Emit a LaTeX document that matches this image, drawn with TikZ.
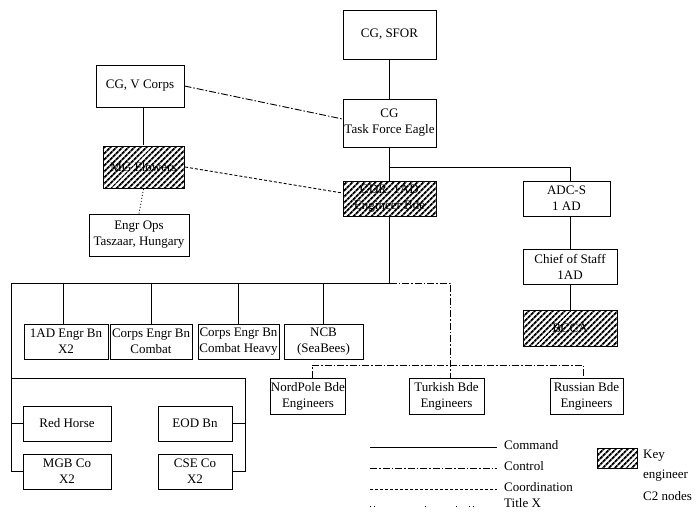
\documentclass[tikz,border=0pt]{standalone}
\usepackage{fontspec}
\setmainfont{Liberation Serif}
\usetikzlibrary{patterns.meta}
\begin{document}
\begin{tikzpicture}[x=1pt,y=-1pt,
 box/.style={draw, line width=1pt, align=center, inner sep=0pt, font=\fontsize{13}{16}\selectfont},
 hatch/.style={box, pattern={Lines[angle=45,distance=4pt,line width=2.1pt]}},
 lbl/.style={anchor=west, inner sep=0pt, font=\fontsize{13}{16}\selectfont},
 cmd/.style={line width=1pt},
 ctl/.style={line width=0.9pt, dash pattern=on 7pt off 2pt on 1.5pt off 2pt},
 crd/.style={line width=0.9pt, dash pattern=on 3pt off 2pt},
 ttx/.style={line width=0.8pt, dash pattern=on 1pt off 2pt},
 ttxl/.style={line width=0.8pt, dash pattern=on 1pt off 3pt on 1pt off 50pt on 1pt off 30pt on 1pt off 12pt},
]
\useasboundingbox (0,0) rectangle (697,512);
% top part
\node[box, minimum width=93pt, minimum height=49pt] (sfor) at (389.5,34.5) {CG, SFOR};
\node[box, minimum width=88pt, minimum height=42pt] (vcorps) at (140,86) {CG, V Corps};
\node[box, minimum width=93pt, minimum height=48pt] (tfe) at (389.5,123) {CG\\Task Force Eagle};
\node[hatch, minimum width=81pt, minimum height=42pt] (mgf) at (143.5,167) {MG Flowers};
\node[box, minimum width=100pt, minimum height=42pt] (engops) at (139,235) {Engr Ops\\Taszaar, Hungary};
\node[hatch, minimum width=93pt, minimum height=35pt] (bde) at (389.5,198.5) {CDR, 1AD\\Engineer Bde};
\node[box, minimum width=87pt, minimum height=35pt] (adcs) at (566.5,198.5) {ADC-S\\1 AD};
\node[box, minimum width=94pt, minimum height=35pt] (cos) at (570,266.5) {Chief of Staff\\1AD};
\node[hatch, minimum width=94pt, minimum height=36pt] (bcca) at (570,328) {BCCA};
% second row
\node[box, minimum width=84pt, minimum height=35pt] (b1) at (66,341.5) {1AD Engr Bn\\X2};
\node[box, minimum width=82pt, minimum height=35pt] (b2) at (151,341.5) {Corps Engr Bn\\Combat};
\node[box, minimum width=81pt, minimum height=35pt] (b3) at (238.5,341.5) {Corps Engr Bn\\Combat Heavy};
\node[box, minimum width=79pt, minimum height=35pt] (ncb) at (323.5,341.5) {NCB\\(SeaBees)};
\node[box, minimum width=74pt, minimum height=36pt] (nord) at (308,396) {NordPole Bde\\Engineers};
\node[box, minimum width=75pt, minimum height=36pt] (turk) at (446.5,396) {Turkish Bde\\Engineers};
\node[box, minimum width=73pt, minimum height=36pt] (russ) at (586.5,396) {Russian Bde\\Engineers};
% lower left
\node[box, minimum width=88pt, minimum height=35pt] (rh) at (67,423.5) {Red Horse};
\node[box, minimum width=88pt, minimum height=35pt] (mgb) at (67,471.5) {MGB Co\\X2};
\node[box, minimum width=74pt, minimum height=35pt] (eod) at (195,423.5) {EOD Bn};
\node[box, minimum width=74pt, minimum height=35pt] (cse) at (195,471.5) {CSE Co\\X2};
% bus coordinates
\coordinate (bus) at (389.5,283);
\coordinate (busL) at (11,283);
\coordinate (busC) at (450,283);
\coordinate (sub) at (11,378);
\coordinate (subR) at (245,378);
\coordinate (ctlL) at (312,365);
\coordinate (ctlR) at (583,365);
% command connectors
\draw[cmd] (sfor) -- (tfe);
\draw[cmd] (vcorps.south -| mgf.north) -- (mgf.north);
\draw[cmd] (tfe) -- (bde);
\draw[cmd] (tfe.south |- 0,167) -| (adcs.north -| cos.north);
\draw[cmd] (cos.north) -- (cos.north |- adcs.south);
\draw[cmd] (cos) -- (bcca);
\draw[cmd] (bde.south) -- (bus) -- (busL) -- (busL |- mgb.west) -- (mgb.west);
\draw[cmd] (busL |- rh.west) -- (rh.west);
\draw[cmd] (b1.north -| 63,0) -- (63,283);
\draw[cmd] (b2.north) -- (b2.north |- bus);
\draw[cmd] (b3.north) -- (b3.north |- bus);
\draw[cmd] (ncb.north) -- (ncb.north |- bus);
\draw[cmd] (sub) -- (subR) -- (subR |- cse.east) -- (cse.east);
\draw[cmd] (subR |- eod.east) -- (eod.east);
% control connectors
\draw[ctl] (vcorps.east) -- (tfe.west |- 0,119);
\draw[ctl] (bus) -- (busC) -- (turk.north -| busC);
\draw[ctl] (nord.north -| ctlL) -- (ctlL) -- (ctlR) -- (russ.north -| ctlR);
% coordination
\draw[crd] (mgf.east) -- (bde.west |- 0,193);
% title X
\draw[ttx] (mgf.south) -- (engops.north);
% legend
\coordinate (l1a) at (370,447); \coordinate (l1b) at (497,447);
\coordinate (l2a) at (370,468); \coordinate (l2b) at (497,468);
\coordinate (l3a) at (370,489); \coordinate (l3b) at (497,489);
\coordinate (l4a) at (370,506); \coordinate (l4b) at (497,506);
\draw[cmd] (l1a) -- (l1b);
\draw[ctl] (l2a) -- (l2b);
\draw[crd] (l3a) -- (l3b);
\draw[ttxl] (l4a) -- (l4b);
\node[lbl] (lc1) at (504,445) {Command};
\node[lbl] (lc2) at (504,466) {Control};
\node[lbl] (lc3) at (504,487) {Coordination};
\node[lbl] (lc4) at (504,503) {Title X};
\node[hatch, minimum width=40pt, minimum height=20pt] (lkey) at (617,458) {};
\node[lbl] (k1) at (643,456) {Key};
\node[lbl] (k2) at (643,476) {engineer};
\node[lbl] (k3) at (643,496) {C2 nodes};
\end{tikzpicture}
\end{document}
